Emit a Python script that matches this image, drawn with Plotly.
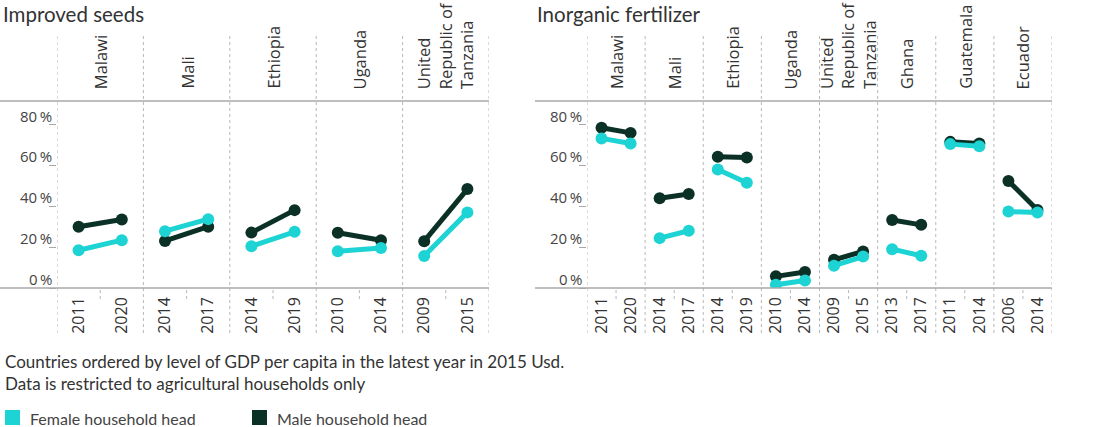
import plotly.graph_objects as go

# ---------------- data ----------------
seeds_countries = ["Malawi", "Mali", "Ethiopia", "Uganda", "United<br>Republic of<br>Tanzania"]
seeds_years = [[2011, 2020], [2014, 2017], [2014, 2019], [2010, 2014], [2009, 2015]]
seeds_female = [[18.5, 23.4], [27.8, 33.7], [20.4, 27.5], [18.0, 19.6], [15.7, 37.0]]
seeds_male = [[30.0, 33.5], [23.0, 30.0], [27.1, 38.1], [27.0, 23.4], [22.9, 48.4]]

fert_countries = ["Malawi", "Mali", "Ethiopia", "Uganda", "United<br>Republic of<br>Tanzania",
                  "Ghana", "Guatemala", "Ecuador"]
fert_years = [[2011, 2020], [2014, 2017], [2014, 2019], [2010, 2014], [2009, 2015],
              [2013, 2017], [2011, 2014], [2006, 2014]]
fert_female = [[73.2, 70.7], [24.4, 28.0], [58.0, 51.5], [1.6, 3.7], [10.9, 15.4],
               [19.0, 15.8], [70.4, 69.4], [37.4, 36.9]]
fert_male = [[78.4, 75.9], [43.9, 46.0], [64.2, 63.9], [5.7, 7.8], [13.8, 17.9],
             [33.3, 30.9], [71.5, 70.7], [52.4, 38.2]]

y_ticks = [0, 20, 40, 60, 80]
titles = ["Improved seeds", "Inorganic fertilizer"]
series_names = ["Female household head", "Male household head"]
footnote = ("Countries ordered by level of GDP per capita in the latest year in 2015 Usd.<br>"
            "Data is restricted to agricultural households only")

# ---------------- style ----------------
W, H = 1100, 427
FONT = "Open Sans"
FONT2 = "Lato"
C_FEMALE = "#1dd3d3"
C_MALE = "#0b3026"
TXT = "#333333"
GRID = "#b8b8b8"
AX = "#a8a8a8"

def px_x(p):
    return p / W

def px_y(p):
    return 1 - p / H

plot_top, plot_bot = 101, 288
panels = [
    dict(countries=seeds_countries, years=seeds_years, female=seeds_female, male=seeds_male,
         x0=57, x1=489, line_x0=0, title_x=1, xa="x", ya="y"),
    dict(countries=fert_countries, years=fert_years, female=fert_female, male=fert_male,
         x0=587, x1=1052, line_x0=535, title_x=535, xa="x2", ya="y2"),
]

fig = go.Figure()
shapes, annotations = [], []

for k, p in enumerate(panels):
    n = len(p["countries"])
    tickvals, ticktext = [], []
    for sname, vals, col in [(series_names[1], p["male"], C_MALE),
                             (series_names[0], p["female"], C_FEMALE)]:
        xs, ys = [], []
        for i in range(n):
            xs += [i + 0.25, i + 0.75, None]
            ys += [vals[i][0], vals[i][1], None]
        fig.add_trace(go.Scatter(x=xs, y=ys, mode="lines+markers", xaxis=p["xa"], yaxis=p["ya"],
                                 name=sname, line=dict(color=col, width=5),
                                 marker=dict(color=col, size=12),
                                 showlegend=False, hoverinfo="skip"))
    for i in range(n):
        tickvals += [i + 0.25, i + 0.75]
        ticktext += [str(p["years"][i][0]), str(p["years"][i][1])]
        annotations.append(dict(x=i + 0.5, xref=p["xa"], y=px_y(91), yref="paper",
                                text=p["countries"][i], textangle=-90, showarrow=False,
                                xanchor="center", yanchor="bottom", align="left",
                                font=dict(family=FONT, size=16.5, color=TXT)))
        # small dotted tick at panel centre below the axis
        shapes.append(dict(type="line", xref=p["xa"], yref="paper", x0=i + 0.5, x1=i + 0.5,
                           y0=px_y(plot_bot + 2), y1=px_y(plot_bot + 13),
                           line=dict(color=GRID, width=1, dash="dot")))
    for i in range(n + 1):
        shapes.append(dict(type="line", xref=p["xa"], yref="paper", x0=i, x1=i,
                           y0=px_y(333), y1=px_y(33),
                           line=dict(color=GRID, width=1, dash="dot")))
    # header border and baseline
    for yy in (plot_top, plot_bot):
        shapes.append(dict(type="line", xref="paper", yref="paper",
                           x0=px_x(p["line_x0"]), x1=px_x(p["x1"]), y0=px_y(yy), y1=px_y(yy),
                           line=dict(color=AX, width=1.5)))
    # y tick labels (sit above the tick)
    for t in y_ticks:
        annotations.append(dict(x=px_x(p["x0"] - 3), xref="paper", y=t, yref=p["ya"],
                                text=f"{t}\u2009%", showarrow=False, xanchor="right",
                                yanchor="middle", yshift=9,
                                font=dict(family=FONT, size=15, color="#444444")))
    annotations.append(dict(x=px_x(p["title_x"]), xref="paper", y=px_y(13.5), yref="paper",
                            text=titles[k], showarrow=False, xanchor="left", yanchor="middle",
                            font=dict(family=FONT2, size=20.5, color=TXT)))

    axis_common = dict(domain=[px_x(p["x0"]), px_x(p["x1"])], range=[0, n],
                       tickvals=tickvals, ticktext=ticktext, tickangle=-90, ticks="",
                       showgrid=False, zeroline=False, showline=False, fixedrange=True,
                       ticklabelstandoff=5,
                       tickfont=dict(family=FONT, size=16, color=TXT))
    yaxis_common = dict(domain=[px_y(plot_bot), px_y(plot_top)], range=[0, 91.5],
                        tickvals=y_ticks, ticks="outside", ticklen=7, tickcolor=AX,
                        showticklabels=False, showgrid=False, zeroline=False, showline=False,
                        fixedrange=True)
    if k == 0:
        fig.update_layout(xaxis=axis_common, yaxis=yaxis_common)
    else:
        fig.update_layout(xaxis2=axis_common, yaxis2=dict(yaxis_common, anchor="x2"))

# legend: squares + labels
legend_items = [(series_names[0], C_FEMALE, 5), (series_names[1], C_MALE, 252)]
for name, col, lx in legend_items:
    shapes.append(dict(type="rect", xref="paper", yref="paper",
                       x0=px_x(lx), x1=px_x(lx + 15), y0=px_y(425), y1=px_y(410),
                       fillcolor=col, line=dict(width=0)))
    annotations.append(dict(x=px_x(lx + 23), xref="paper", y=px_y(418), yref="paper",
                            text=name, showarrow=False, xanchor="left", yanchor="middle",
                            font=dict(family=FONT2, size=16, color="#444444")))

annotations.append(dict(x=px_x(3), xref="paper", y=px_y(372.5), yref="paper", text=footnote,
                        showarrow=False, xanchor="left", yanchor="middle", align="left",
                        font=dict(family=FONT2, size=17, color=TXT)))

fig.update_layout(
    width=W, height=H, margin=dict(l=0, r=0, t=0, b=0),
    paper_bgcolor="white", plot_bgcolor="white",
    shapes=shapes, annotations=annotations,
    showlegend=False,
)

fig.write_html("out.html", config={"displayModeBar": False},
               post_script="document.body.style.margin='0';"
               "document.body.style.overflow='hidden';")
